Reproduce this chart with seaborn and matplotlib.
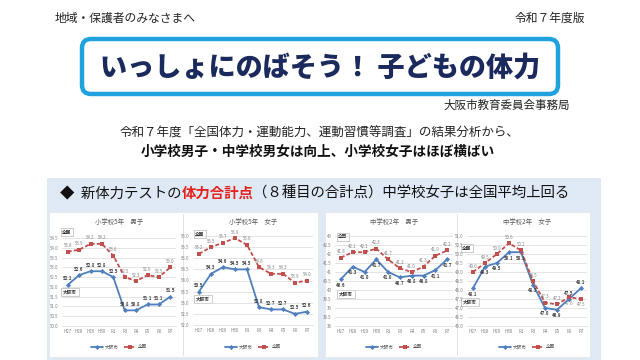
import matplotlib
matplotlib.use("Agg")
import matplotlib.pyplot as plt
from matplotlib.patches import FancyBboxPatch, Rectangle
import seaborn as sns
import pandas as pd

# years on the x axis
years = ["H27", "H28", "H29", "H30", "R1", "R3", "R4", "R5", "R6", "R7"]

# 体力合計点: 大阪市 / 全国
e5_boys_osaka = [52.1, 52.6, 52.8, 52.8, 52.5, 50.8, 50.8, 51.1, 51.1, 51.5]
e5_boys_nat = [53.8, 53.9, 54.2, 54.2, 53.6, 52.5, 52.3, 52.6, 52.5, 53.0]
e5_girls_osaka = [53.5, 54.3, 54.6, 54.5, 54.5, 52.8, 52.7, 52.7, 52.5, 52.6]
e5_girls_nat = [55.2, 55.5, 55.7, 55.9, 55.6, 54.6, 54.3, 54.3, 53.9, 54.0]
j2_boys_osaka = [40.6, 41.3, 41.0, 41.7, 41.0, 40.7, 40.8, 40.8, 41.1, 41.7]
j2_boys_nat = [41.8, 42.1, 42.1, 42.3, 41.7, 41.2, 41.0, 41.3, 41.9, 42.2]
j2_girls_osaka = [48.1, 49.3, 49.5, 50.1, 50.1, 48.3, 47.0, 46.9, 47.5, 48.1]
j2_girls_nat = [49.0, 49.5, 50.0, 50.6, 50.2, 48.5, 47.3, 47.2, 47.6, 47.5]

chart_titles = ["小学校5年　男子", "小学校5年　女子", "中学校2年　男子", "中学校2年　女子"]
groups = ["大阪市", "全国"]

sns.set_theme(style="white")
plt.rcParams['font.family'] = ['Noto Sans CJK JP', 'DejaVu Sans']

fig = plt.figure(figsize=(6.4, 3.6), dpi=100)
bg = fig.add_axes([0, 0, 1, 1])
bg.set_xlim(0, 640)
bg.set_ylim(360, 0)
bg.axis("off")

# header
bg.text(55, 18, "地域・保護者のみなさまへ", fontsize=8.5, va="center", ha="left", color="#222222")
bg.text(585, 18, "令和７年度版", fontsize=8.5, va="center", ha="right", color="#222222")
bg.add_patch(FancyBboxPatch((82, 39), 476, 55, boxstyle="round,pad=0,rounding_size=9",
                            fc="white", ec="#1fa2dd", lw=3.2))
bg.text(320, 67, "いっしょにのばそう！ 子どもの体力", fontsize=19.5, fontweight="heavy",
        va="center", ha="center", color="#1b2a5c")
bg.text(570, 105, "大阪市教育委員会事務局", fontsize=8.3, va="center", ha="right", color="#222222")
bg.text(320, 133, "令和７年度「全国体力・運動能力、運動習慣等調査」の結果分析から、",
        fontsize=9, va="center", ha="center", color="#222222")
bg.text(318, 152, "小学校男子・中学校男女は向上、小学校女子はほぼ横ばい",
        fontsize=9.8, fontweight="bold", va="center", ha="center", color="#111111")

# blue band + white panels
bg.add_patch(Rectangle((47, 178), 554, 182, fc="#dfe9f5", ec="none"))
bg.add_patch(Rectangle((49, 212), 269, 145, fc="white", ec="#e4e4e4", lw=0.5))
bg.add_patch(Rectangle((325, 212), 265, 145, fc="white", ec="#e4e4e4", lw=0.5))
bg.plot([183, 183], [214, 355], color="#dddddd", lw=0.6)
bg.plot([457, 457], [214, 355], color="#dddddd", lw=0.6)

# band heading with red bold part
renderer = fig.canvas.get_renderer()
x = 60
for s, col, w in [("◆  新体力テストの", "#111111", "normal"),
                  ("体力合計点", "#e3231d", "bold"),
                  ("（８種目の合計点）中学校女子は全国平均上回る", "#111111", "normal")]:
    t = bg.text(x, 194, s, fontsize=10.4, color=col, fontweight=w, va="center", ha="left")
    x = t.get_window_extent(renderer).x1

charts = [
    dict(osaka=e5_boys_osaka, nat=e5_boys_nat, ylim=(50.0, 54.5), fmt="{:.1f}",
         box=(62, 238, 114, 88), nat_tag=(67, 232), osaka_tag=(70, 292),
         osaka_up=[True] * 10, nat_up=[True] * 10),
    dict(osaka=e5_girls_osaka, nat=e5_girls_nat, ylim=(52.0, 56.0), fmt="{:.1f}",
         box=(193, 236, 120, 89), nat_tag=(200, 234), osaka_tag=(203, 299),
         osaka_up=[True] * 10, nat_up=[True] * 10),
    dict(osaka=j2_boys_osaka, nat=j2_boys_nat, ylim=(38.0, 43.0), fmt="{:g}",
         box=(335, 236, 118, 90), nat_tag=(343, 237), osaka_tag=(346, 294),
         osaka_up=[False] * 10, nat_up=[True] * 10),
    dict(osaka=j2_girls_osaka, nat=j2_girls_nat, ylim=(46.0, 51.0), fmt="{:.1f}",
         box=(467, 236, 120, 90), nat_tag=(467, 248), osaka_tag=(470, 302),
         osaka_up=[False] * 8 + [True] * 2, nat_up=[True] * 8 + [False] * 2),
]

palette = {"大阪市": "#4f7fbc", "全国": "#c0504d"}

for title, c in zip(chart_titles, charts):
    left, top, w, h = c["box"]
    ax = fig.add_axes([left / 640, 1 - (top + h) / 360, w / 640, h / 360])
    df = pd.DataFrame({"x": list(range(len(years))) * 2,
                       "score": c["osaka"] + c["nat"],
                       "group": ["大阪市"] * len(years) + ["全国"] * len(years)})
    sns.lineplot(data=df, x="x", y="score", hue="group", style="group",
                 hue_order=groups, style_order=groups, palette=palette,
                 markers={"大阪市": "D", "全国": "s"},
                 dashes={"大阪市": "", "全国": (2.2, 1.2)},
                 markersize=2.6, linewidth=1.3, markeredgewidth=0, ax=ax)
    lo, hi = c["ylim"]
    ticks = [lo + 0.5 * k for k in range(int(round((hi - lo) / 0.5)) + 1)]
    ax.set_ylim(lo, hi)
    ax.set_yticks(ticks)
    ax.set_yticklabels([c["fmt"].format(v) for v in ticks])
    ax.set_xlim(-0.5, len(years) - 0.5)
    ax.set_xticks(range(len(years)))
    ax.set_xticklabels(years)
    ax.tick_params(axis="both", labelsize=3.2, colors="#808080", length=0, pad=2.5)
    ax.set_xlabel("")
    ax.set_ylabel("")
    ax.grid(axis="y", color="#d9d9d9", lw=0.5)
    for sp in ["top", "right", "left"]:
        ax.spines[sp].set_visible(False)
    ax.spines["bottom"].set_color("#d9d9d9")
    ax.spines["bottom"].set_linewidth(0.5)
    ax.patch.set_alpha(0)

    for i in range(len(years)):
        for vals, up_list, col, wt in [(c["osaka"], c["osaka_up"], "#404040", "bold"),
                                       (c["nat"], c["nat_up"], "#808080", "normal")]:
            up = up_list[i]
            ax.annotate("{:.1f}".format(vals[i]), (i, vals[i]),
                        xytext=(0, 2.5 if up else -2.5), textcoords="offset points",
                        ha="center", va="bottom" if up else "top",
                        fontsize=3.2, color=col, fontweight=wt)

    cx = left + w / 2
    bg.text(cx, 222, title, fontsize=4.6, ha="center", va="center", color="#595959")
    for tag, (tx, ty) in [("全国", c["nat_tag"]), ("大阪市", c["osaka_tag"])]:
        bg.text(tx, ty, tag, fontsize=3.3, ha="center", va="center", color="#333333",
                fontweight="bold",
                bbox=dict(boxstyle="square,pad=0.35", fc="white", ec="#a6a6a6", lw=0.4))

    handles, labels = ax.get_legend_handles_labels()
    ax.legend(handles, labels, loc="center", bbox_to_anchor=(cx, 347),
              bbox_transform=bg.transData, ncol=2, frameon=False, fontsize=3.3,
              handlelength=2.6, columnspacing=1.0, handletextpad=0.4,
              labelcolor="#595959")

fig.savefig("out.png", dpi=100)
